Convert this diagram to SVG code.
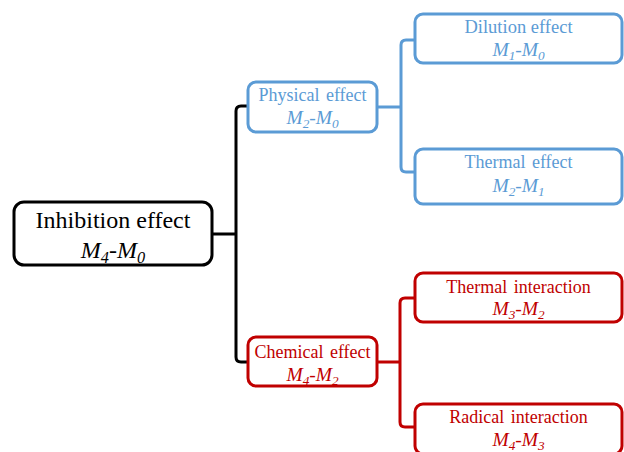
<svg xmlns="http://www.w3.org/2000/svg" width="624" height="452" viewBox="0 0 624 452">
<style>
.box{fill:#fff;stroke-width:3}
.blk{stroke:#000}
.blu{stroke:#5b9bd5}
.red{stroke:#c00000}
.t{font-family:"Liberation Serif","Times New Roman",serif;text-anchor:middle;font-size:18px;word-spacing:2px}
.i{font-style:italic;font-size:19.5px}
.tb{fill:#5b9bd5}
.tr{fill:#c00000}
.tk{fill:#000}
.c{fill:none;stroke-width:3}
.sub{font-size:0.68em}
</style>
<rect width="624" height="452" fill="#fff"/>
<g id="connectors">
<path class="c blk" d="M212,234 H236 M248,106 H241 Q236,106 236,111 V357 Q236,362 241,362 H248"/>
<path class="c blu" d="M377,107 H401 M415,40 H406 Q401,40 401,45 V167 Q401,172 406,172 H415"/>
<path class="c red" d="M377,362 H400 M415,298 H405 Q400,298 400,303 V422 Q400,427 405,427 H415"/>
</g>
<g id="inhibition">
<rect class="box blk" x="14" y="202" width="198" height="63" rx="10"/>
<text class="t tk" x="113" y="228" style="font-size:24px;word-spacing:0">Inhibition effect</text>
<text class="t tk i" x="113" y="258" style="font-size:24px">M<tspan class="sub" dy="5">4</tspan><tspan dy="-5">-M</tspan><tspan class="sub" dy="5">0</tspan></text>
</g>
<g id="physical">
<rect class="box blu" x="248" y="82" width="129" height="50" rx="8"/>
<text class="t tb" x="312.5" y="101">Physical effect</text>
<text class="t tb i" x="312.5" y="124">M<tspan class="sub" dy="4">2</tspan><tspan dy="-4">-M</tspan><tspan class="sub" dy="4">0</tspan></text>
</g>
<g id="dilution">
<rect class="box blu" x="415" y="14" width="207" height="49" rx="8"/>
<text class="t tb" x="518.5" y="33" style="font-size:18.5px;word-spacing:0">Dilution effect</text>
<text class="t tb i" x="518.5" y="56">M<tspan class="sub" dy="4">1</tspan><tspan dy="-4">-M</tspan><tspan class="sub" dy="4">0</tspan></text>
</g>
<g id="thermal-effect">
<rect class="box blu" x="415" y="149" width="207" height="55" rx="8"/>
<text class="t tb" x="518.5" y="168">Thermal effect</text>
<text class="t tb i" x="518.5" y="192">M<tspan class="sub" dy="4">2</tspan><tspan dy="-4">-M</tspan><tspan class="sub" dy="4">1</tspan></text>
</g>
<g id="chemical">
<rect class="box red" x="248" y="337" width="129" height="49" rx="8"/>
<text class="t tr" x="312.5" y="358">Chemical effect</text>
<text class="t tr i" x="312.5" y="381">M<tspan class="sub" dy="4">4</tspan><tspan dy="-4">-M</tspan><tspan class="sub" dy="4">2</tspan></text>
</g>
<g id="thermal-interaction">
<rect class="box red" x="415" y="273" width="207" height="49" rx="8"/>
<text class="t tr" x="518.5" y="293">Thermal interaction</text>
<text class="t tr i" x="518.5" y="315">M<tspan class="sub" dy="4">3</tspan><tspan dy="-4">-M</tspan><tspan class="sub" dy="4">2</tspan></text>
</g>
<g id="radical-interaction">
<rect class="box red" x="415" y="404" width="207" height="50" rx="8"/>
<text class="t tr" x="518.5" y="423">Radical interaction</text>
<text class="t tr i" x="518.5" y="446">M<tspan class="sub" dy="4">4</tspan><tspan dy="-4">-M</tspan><tspan class="sub" dy="4">3</tspan></text>
</g>
</svg>
